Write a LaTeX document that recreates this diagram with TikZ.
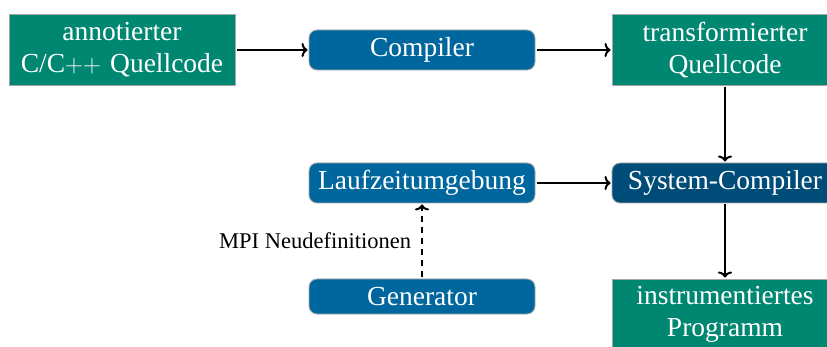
\documentclass[tikz,border=0pt]{standalone}
\usepackage{fontspec}
\setmainfont{Liberation Serif}
\usetikzlibrary{arrows.meta}
\definecolor{boxgreen}{RGB}{0,135,114}
\definecolor{boxblue}{RGB}{0,103,158}
\definecolor{boxdark}{RGB}{0,76,120}
\definecolor{boxrim}{RGB}{165,165,165}
\begin{document}
\begin{tikzpicture}[x=1pt,y=-1pt,
  base/.style={draw=boxrim, line width=0.9pt, text=white,
    font=\fontsize{27.5}{32}\selectfont, align=center, inner sep=0pt,
    text width=226pt, minimum width=226pt, outer sep=1.5pt},
  artefact/.style={base, fill=boxgreen, minimum height=71pt},
  tool/.style={base, fill=boxblue, rounded corners=8pt, minimum height=40pt},
  systool/.style={tool, fill=boxdark},
  flow/.style={-{To[length=6pt,width=14pt]}, line width=2pt},
  note/.style={font=\fontsize{22.5}{26}\selectfont, text=black},
]
\useasboundingbox (0,0) rectangle (827,347);
\clip (0,0) rectangle (827,347);

% top row: source -> compiler -> transformed source
\node[artefact] (src)   at (122,50) {annotierter\\C/C$++$ Quellcode};
\node[tool]     (comp)  at (422,50) {Compiler};
\node[artefact] (trans) at (725,50) {transformierter\\Quellcode};

% middle row: runtime and system compiler
\node[tool]    (rt)  at (422,183) {Laufzeitumgebung};
\node[systool] (sys) at (725,183) {System-Compiler};

% bottom row: generator and final program
\node[tool, minimum height=35pt] (gen) at (422,296.5) {Generator};
\node[artefact] (inst) at (725,314.5) {instrumentiertes\\Programm};

% connectors
\draw[flow] (src) -- (comp);
\draw[flow] (comp) -- (trans);
\draw[flow] (trans) -- (sys);
\draw[flow] (rt) -- (sys);
\draw[flow] (sys) -- (inst);
\draw[flow, dash pattern=on 6pt off 5pt] (gen) -- node[midway, left, note, inner sep=10pt] {MPI Neudefinitionen} (rt);
\end{tikzpicture}
\end{document}
